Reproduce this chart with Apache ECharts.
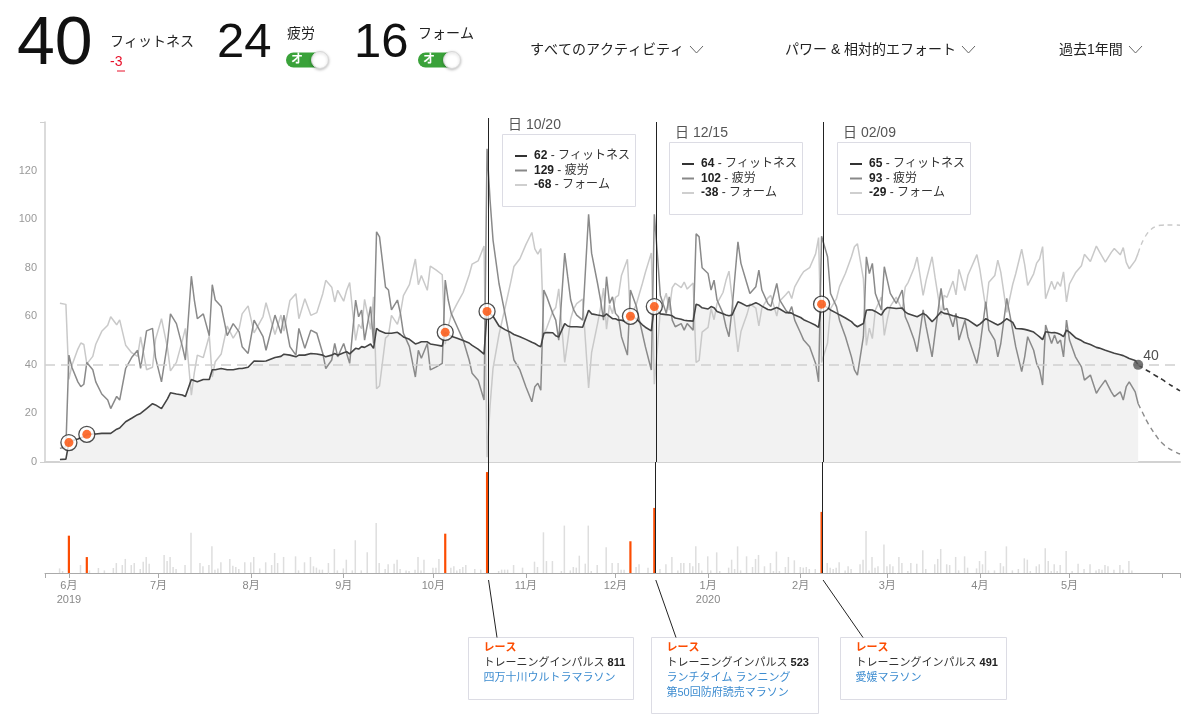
<!DOCTYPE html>
<html>
<head>
<meta charset="utf-8">
<script src="https://cdn.jsdelivr.net/npm/echarts@6/dist/echarts.min.js"></script>
<style>
  html, body { margin: 0; padding: 0; background: #fff; }
  #chart { width: 1200px; height: 721px; }
</style>
</head>
<body>
<div id="chart"></div>
<script>
// ----------------------
// データ (日数 = 2019/05/24 からの経過日)
// ----------------------
const days = [
  5,7,8,9,11,12,13,14,16,17,19,21,22,24,25,27,29,31,32,34,36,37,39,41,42,44,46,47,49,50,51,53,55,56,57,59,61,63,65,66,68,70,73,74,77,79,80,82,84,85,87,89,91,93,94,96,97,
  98,100,101,102,104,105,106,107,109,110,111,112,114,115,116,118,119,120,122,124,125,126,128,129,131,133,134,135,136,138,140,142,143,145,147,148,149,150,152,154,156,157,159,161,163,164,165,166,167,168,170,171,172,174,175,176,177,178,180,182,183,185,186,187,188,189,190,191,192,
  193,195,196,198,199,200,201,203,204,205,206,208,209,210,211,213,214,215,217,218,219,220,222,223,224,225,227,228,229,230,232,233,235,236,238,239,240,242,243,245,246,248,249,250,251,253,254,256,258,259,260,262,263,265,266,268,270,271,272,274,275,276,277,278,280,281,282,283,285,287,
  288,289,291,292,294,295,297,298,300,301,302,304,305,306,308,309,312,313,315,316,318,319,320,322,324,325,327,328,329,331,332,333,334,335,337,338,339,340,341,342,343,345,347,348,350,352,353,355,357,358,360,361,362,363,365,366
];
const fitness = [
  1,1.2,8,8.7,9.5,10,10.4,11.4,11.5,11.5,11.8,11.8,11.8,13.5,14,16.6,18,19.5,20,22,24,23.5,22,26,28.5,28,27.6,27,34,33.5,33,34,34,38,38,38.5,38,38,38.5,38.5,39,41.6,41.5,41.6,43,43.5,44.4,44,43.3,44,44,44.7,44.5,44,43.3,44,44.7,
  44,45,45.4,44.5,46.8,46.5,47.5,47.2,48.6,46.8,55,54,53,53,53,53.4,52.5,51.5,50.5,48.6,49,49.5,49.5,48.6,48.2,47.7,53.4,52.5,51.8,51,50,49,48,46.5,44.4,62,61,60,56,54.5,53.3,52.5,51.6,50.5,49.3,48.8,48,47.5,53,53.3,53.2,52,51.5,57,56,55.7,55.7,55.7,55.5,62.5,61,60.5,60.3,60,61,60,59,59,58.4,
  58.4,57.5,60,59,57.7,56.5,55.5,54,64,62.5,61,60.7,60.5,60.2,59.3,58.8,58.4,58.2,58,65,64.5,63.5,63,64,63.5,62,61,60.5,60.2,60.5,66,65.5,64.2,64.5,65.6,65,64.2,62.8,62.6,63.6,63,61.5,61.5,61.3,60.5,59.5,58.6,57.5,56.3,55.4,65,63.5,62.6,61.3,60.6,59.3,57.8,56.5,55.7,57,62.5,62.7,62.6,62,60.5,62.5,63.6,63.5,63.2,63.4,
  61.8,61,60.2,59.8,61.2,60.5,57.8,59,61.9,61.2,61,60.2,60,59.5,59,58.5,56,56.8,59,58.3,57,56.4,57,59,57.5,55,54.8,54.6,54.3,53.5,52.5,51.5,50.4,53.6,53.2,53.3,53,52.5,51.6,54.3,53.5,51.2,50,49.2,48.4,47.2,46.9,46,45.2,44.8,44.2,43.8,43.2,42.6,41.8,40
];
const fatigue = [
  5.6,6.3,44,39,33,31,32,41,38,33,28,25.5,22,27,25.5,38.5,43,46,38.5,54,55,43,33,49,61,57,47.5,42,76.5,66.7,59,61,52,73,66.7,64,52,57,53.6,47.5,44.7,58.4,51.6,46,60.5,53,60.5,47.5,44,55,46.8,54.3,53,44.7,38.5,42,48.8,
  43.3,48.8,44.7,40.6,66.7,59.8,62.6,50.2,64,48.8,94.8,92.7,72,70.8,62.6,66.7,61.2,53,47.5,35,46,42.7,48.8,37.9,39.2,40.6,74.9,66.7,61.2,55.7,50.2,42,36.5,33.7,25.5,129,108,91.4,73.5,61.2,48.8,42,37.9,31,24.8,31,32.4,29.6,70.8,68,61.2,58.4,50.2,86,76.3,66.7,62.6,60.5,58.4,102,86,73.5,66.7,58.4,76.3,65.3,68,61.2,59.8,
  51.6,44,70.8,64,58.4,53,47.5,37.9,102,86,68.7,61.2,68,58.4,55.7,57,54.3,57,54.3,94,92.7,80,77.6,70.8,74.9,66.7,61.2,55.7,51.6,62.6,90.7,81.8,73.5,69.4,72.2,79,70.8,65.3,64,73.5,66.7,62.6,61.2,64,58.4,53,50.2,47.5,40.6,33,93,84.5,69.4,64,58.4,51.6,43.3,37.9,35.8,51.6,84.5,77.6,81.8,69.4,62.6,80.4,74.9,69.4,65.3,70.8,
  59.8,57,50.2,45.4,62.6,55.7,43.3,53,71.5,62.6,63.2,55.7,61.2,50.2,58.4,51.6,40.6,47.5,66,54.3,50.2,43.3,48.8,67.4,54.3,47.5,37.2,43.3,51.6,46,40.6,37.9,31.7,56.4,48.8,52.3,48.8,50.2,43.3,58.4,50.2,43.3,39.2,33.7,35.8,28.3,30.3,33.7,28.9,26.9,28.9,25.5,31,33,28.9,24
];
const form = [
  -4.6,-5.1,-36,-30.3,-23.5,-21,-21.6,-29.6,-26.5,-21.5,-16.2,-13.7,-10.2,-13.5,-11.5,-21.9,-25,-26.5,-18.5,-32,-31,-19.5,-11,-23,-32.5,-29,-19.9,-15,-42.5,-33.2,-26,-27,-18,-35,-28.7,-25.5,-14,-19,-15.1,-9,-5.7,-16.8,-10.1,-4.4,-17.5,-9.5,-16.1,-3.5,-0.7,-11,-2.8,-9.6,-8.5,-0.7,4.8,2,-4.1,
  0.7,-3.8,0.7,3.9,-19.9,-13.3,-15.1,-3,-15.4,-2,-39.8,-38.7,-19,-17.8,-9.6,-13.3,-8.7,-1.5,3,13.6,3,6.8,0.7,10.7,9,7.1,-21.5,-14.2,-9.4,-4.7,-0.2,7,11.5,12.8,18.9,-68,-47,-31.4,-17.5,-6.7,4.5,10.5,13.7,19.5,24.5,17.8,15.6,17.9,-17.8,-14.7,-8,-6.4,1.3,-29,-20.3,-11,-6.9,-4.8,-2.9,-39.5,-25,-13,-6.4,1.6,-15.3,-5.3,-9,-2.2,-1.4,
  6.8,13.5,-10.8,-5,-0.7,3.5,8,16.1,-38,-23.5,-7.7,-0.5,-7.5,1.8,3.6,1.8,4.1,1.2,3.7,-29,-28.2,-16.5,-14.6,-6.8,-11.4,-4.7,-0.2,4.8,8.6,-2.1,-24.7,-16.3,-9.3,-4.9,-6.6,-14,-6.6,-2.5,-1.4,-9.9,-3.7,-1.1,0.3,-2.7,2.1,6.5,8.4,10,15.7,22.4,-29,-21,-6.8,-2.7,2.2,7.7,14.5,18.6,19.9,5.4,-22,-14.9,-19.2,-7.4,-2.1,-17.9,-11.3,-5.9,-2.1,-7.4,
  2,4,10,14.4,-1.4,4.8,14.5,6,-9.6,-1.4,-2.2,4.5,-1.2,9.3,0.6,6.9,15.4,9.3,-7,4,6.8,13.1,8.2,-8.4,3.2,7.5,17.6,11.3,2.7,7.5,11.9,13.6,18.7,-2.8,4.4,1,4.2,2.3,8.3,-4.1,3.3,7.9,10.8,15.5,12.6,18.9,16.6,12.3,16.3,17.9,15.3,18.3,12.2,9.6,12.9,16
];

// 予測 (今日以降)
const projDays = [366, 367, 368, 369, 370, 372, 374, 376, 378, 380];
const projFitness = [40, 39.2, 38.5, 37.7, 37, 35.4, 34, 32.3, 30.8, 29.3];
const projFatigue = [24, 21.5, 19, 16.6, 14.5, 10.8, 7.8, 5.8, 4.4, 3.3];
const projForm = [16, 19.5, 22, 24, 25.5, 27, 27.5, 27.6, 27.6, 27.5];

// レース
const raceDays = [8, 14, 134, 148, 196, 204, 260];
const raceFitness = [8, 11.4, 53.4, 62, 60, 64, 65];
const raceLoads = [300, 128, 316, 811, 255, 523, 491];

// トレーニングインパルス (レース以外)
const loadDays = [
  5,6,12,15,18,20,23,24,26,27,29,30,32,33,34,35,40,41,42,43,44,47,49,52,53,55,56,57,58,59,62,63,64,65,67,69,70,72,74,76,77,78,80,84,85,87,89,90,91,92,93,95,97,98,100,101,103,104,106,108,111,112,114,115,117,118,119,121,122,124,125,126,127,130,131,132,136,137,138,139,140,141,144,146,152,153,154,155,157,160,164,165,167,168,170,173,174,176,177,178,179,181,182,183,185,
  188,190,192,193,194,198,199,202,206,208,210,212,213,214,216,217,218,219,220,222,223,225,226,229,230,231,232,233,235,237,238,239,241,243,244,245,246,248,249,251,253,254,255,256,258,262,263,264,265,266,268,269,270,273,274,275,276,277,278,279,281,282,283,284,286,287,289,290,292,294,295,298,299,300,302,303,305,306,308,309,312,313,314,315,316,318,320,321,322,324,326,328,329,330,332,333,335,336,337,338,339,340,342,344,346,348,350,352,353,354,355,356,358,360,361,363,364
];
const loadVals = [
  37,16,64,21,40,21,40,80,64,113,64,80,32,91,129,75,145,96,129,48,32,64,324,80,54,64,214,27,37,86,113,59,48,32,86,86,129,37,86,64,161,80,129,134,21,86,129,54,43,27,27,80,193,21,37,107,21,263,21,166,402,80,32,70,75,107,32,21,16,27,129,21,107,43,43,113,43,54,21,32,48,64,32,27,16,27,27,27,64,43,91,48,327,96,96,16,381,21,48,43,139,75,381,16,64,
  206,80,80,27,27,48,70,43,32,70,129,21,80,80,80,54,214,80,21,134,21,166,16,43,107,32,214,21,134,48,113,145,54,80,16,172,16,48,129,102,48,43,48,32,32,80,43,32,43,86,21,54,32,70,107,338,21,129,43,54,230,54,70,54,129,80,16,80,75,182,32,70,113,193,70,64,129,21,134,43,37,96,70,177,21,21,80,54,214,21,32,118,107,16,54,70,198,96,16,70,16,64,177,16,75,32,70,21,32,27,64,54,27,64,27,96,21
];

// 軸
const yTicks = [0, 20, 40, 60, 80, 100, 120];
const monthDays = [8, 38, 69, 100, 130, 161, 191, 222, 253, 282, 313, 343];
const monthNames = ['6月\n2019', '7月', '8月', '9月', '10月', '11月', '12月', '1月\n2020', '2月', '3月', '4月', '5月'];
const tickDays = [0, 8, 38, 69, 100, 130, 161, 191, 222, 253, 282, 313, 343, 374, 380];
const TODAY = 366;

// ツールチップ・レース情報
const tipDays = [148, 204, 260];
const tipDates = ['日 10/20', '日 12/15', '日 02/09'];
const tipFitness = [62, 64, 65];
const tipFatigue = [129, 102, 93];
const tipForm = [-68, -38, -29];
const raceImpulse = [811, 523, 491];
const raceNames = [['四万十川ウルトラマラソン'], ['ランチタイム ランニング', '第50回防府読売マラソン'], ['愛媛マラソン']];

// ----------------------
// 色・フォント
// ----------------------
const C_FIT = '#444';
const C_FAT = '#8a8a8a';
const C_FORM = '#c9c9c9';
const C_ORANGE = '#fc4c02';
const C_BLUE = '#3d8cd0';
const FONT = '"Liberation Sans", "Noto Sans CJK JP", sans-serif';

const pairs = (xs, ys) => xs.map((x, i) => [x, ys[i]]);
// 縦線はバーの少し右に引く
const cursorLines = tipDays.map(d => ({ xAxis: d + 0.5 }));

const chart = echarts.init(document.getElementById('chart'));

chart.setOption({
  animation: false,
  textStyle: { fontFamily: FONT },
  grid: [
    { left: 45, right: 20, top: 122, height: 340 },
    { left: 45, right: 20, top: 462, height: 111 }
  ],
  xAxis: [
    {
      gridIndex: 0, type: 'value', min: 0, max: 380,
      axisLine: { lineStyle: { color: '#d2d2d2', width: 2 } },
      axisTick: { show: false }, axisLabel: { show: false }, splitLine: { show: false }
    },
    {
      gridIndex: 1, type: 'value', min: 0, max: 380,
      axisLine: { lineStyle: { color: '#aaa', width: 1 } },
      axisTick: { customValues: tickDays, length: 5, lineStyle: { color: '#aaa' } },
      axisLabel: {
        customValues: monthDays, color: '#888', fontSize: 11, lineHeight: 14, margin: 6,
        formatter: v => monthNames[monthDays.indexOf(v)] || ''
      },
      splitLine: { show: false }
    }
  ],
  yAxis: [
    {
      gridIndex: 0, type: 'value', min: 0, max: 140,
      axisLine: { show: true, lineStyle: { color: '#cfcfcf', width: 1.5 } },
      axisTick: { show: true, customValues: [0, 140], length: 5, lineStyle: { color: '#cfcfcf' } },
      axisLabel: { customValues: yTicks, color: '#999', fontSize: 11, margin: 8 },
      splitLine: { show: false }
    },
    { gridIndex: 0, type: 'value', min: -70, max: 70, show: false },
    { gridIndex: 1, type: 'value', min: 0, max: 892, show: false }
  ],
  series: [
    {
      // フィットネスの塗り
      type: 'line', xAxisIndex: 0, yAxisIndex: 0, z: 1,
      data: pairs(days, fitness), symbol: 'none',
      lineStyle: { width: 0 }, areaStyle: { color: '#f2f2f2', opacity: 1 },
      markLine: {
        silent: true, symbol: 'none', label: { show: false },
        lineStyle: { color: '#d0d0d0', width: 1.5, type: [10, 6] },
        data: [{ yAxis: 40 }]
      }
    },
    {
      name: 'フォーム', type: 'line', xAxisIndex: 0, yAxisIndex: 1, z: 2,
      data: pairs(days, form), symbol: 'none',
      lineStyle: { color: C_FORM, width: 1.5 }
    },
    {
      name: '疲労', type: 'line', xAxisIndex: 0, yAxisIndex: 0, z: 3,
      data: pairs(days, fatigue), symbol: 'none',
      lineStyle: { color: C_FAT, width: 1.5 }
    },
    {
      name: 'フィットネス', type: 'line', xAxisIndex: 0, yAxisIndex: 0, z: 4,
      data: pairs(days, fitness), symbol: 'none',
      lineStyle: { color: C_FIT, width: 1.6 },
      markLine: {
        silent: true, symbol: 'none', label: { show: false },
        lineStyle: { color: '#222', width: 1, type: 'solid' },
        data: cursorLines
      }
    },
    // 予測 (破線)
    {
      type: 'line', xAxisIndex: 0, yAxisIndex: 1, z: 2, smooth: true,
      data: pairs(projDays, projForm), symbol: 'none',
      lineStyle: { color: C_FORM, width: 1.4, type: [5, 4] }
    },
    {
      type: 'line', xAxisIndex: 0, yAxisIndex: 0, z: 3, smooth: true,
      data: pairs(projDays, projFatigue), symbol: 'none',
      lineStyle: { color: C_FAT, width: 1.4, type: [5, 4] }
    },
    {
      type: 'line', xAxisIndex: 0, yAxisIndex: 0, z: 4, smooth: true,
      data: pairs(projDays, projFitness), symbol: 'none',
      lineStyle: { color: '#333', width: 1.6, type: [5, 4] }
    },
    // レースマーカー
    {
      type: 'scatter', xAxisIndex: 0, yAxisIndex: 0, z: 6,
      data: pairs(raceDays, raceFitness), symbolSize: 16,
      itemStyle: { color: '#fff', borderColor: '#222', borderWidth: 1.3 }
    },
    {
      type: 'scatter', xAxisIndex: 0, yAxisIndex: 0, z: 7,
      data: pairs(raceDays, raceFitness), symbolSize: 9,
      itemStyle: { color: C_ORANGE }
    },
    // 今日
    {
      type: 'scatter', xAxisIndex: 0, yAxisIndex: 0, z: 7,
      data: [[TODAY, fitness[fitness.length - 1]]], symbolSize: 10,
      itemStyle: { color: '#555' },
      label: { show: true, position: 'right', distance: 0, offset: [0, -9], formatter: '{@[1]}', color: '#222', fontSize: 14 }
    },
    // トレーニングインパルス
    {
      type: 'bar', xAxisIndex: 1, yAxisIndex: 2, z: 2,
      data: pairs(loadDays, loadVals), barWidth: 1.5, barGap: '-100%',
      itemStyle: { color: '#dedede' },
      markLine: {
        silent: true, symbol: 'none', label: { show: false },
        lineStyle: { color: '#222', width: 1, type: 'solid' },
        data: cursorLines
      }
    },
    {
      type: 'bar', xAxisIndex: 1, yAxisIndex: 2, z: 3,
      data: pairs(raceDays, raceLoads), barWidth: 2.2, barGap: '-100%',
      itemStyle: { color: C_ORANGE }
    }
  ]
});

// ----------------------
// 注釈 (ヘッダー・ツールチップ・レース情報)
// ----------------------
function text(x, y, s, size, color, extra) {
  return {
    type: 'text', x: x, y: y, z: 50, silent: true,
    style: Object.assign({ text: s, fontSize: size, fontFamily: FONT, fill: color, verticalAlign: 'middle' }, extra || {})
  };
}
function line(x1, y1, x2, y2, color, w) {
  return { type: 'line', z: 49, silent: true, shape: { x1, y1, x2, y2 }, style: { stroke: color, lineWidth: w || 1 } };
}
function box(x, y, w, h) {
  return { type: 'rect', z: 48, silent: true, shape: { x, y, width: w, height: h }, style: { fill: '#fff', stroke: '#dcdce4', lineWidth: 1 } };
}
function toggle(x, cy) {
  return [
    { type: 'rect', z: 48, silent: true, shape: { x: x, y: cy - 7.5, width: 40, height: 15, r: 7.5 }, style: { fill: '#3aa23a' } },
    text(x + 5, cy, 'オ', 12, '#fff', { fontWeight: 'bold' }),
    { type: 'circle', z: 50, silent: true, shape: { cx: x + 34, cy: cy, r: 8.5 },
      style: { fill: '#fff', stroke: '#d8d8d8', lineWidth: 1, shadowBlur: 3, shadowColor: 'rgba(0,0,0,0.25)', shadowOffsetY: 1 } }
  ];
}
function chevron(x, cy) {
  return { type: 'polyline', z: 50, silent: true, shape: { points: [[x, cy - 4], [x + 6.5, cy + 3], [x + 13, cy - 4]] },
    style: { stroke: '#666', lineWidth: 1, fill: null } };
}

const g = [];
// ヘッダー
g.push(text(17, 45, '40', 68, '#111'));
g.push(text(110, 42, 'フィットネス', 14, '#222'));
g.push(text(110, 62, '-3', 14, '#e8102a'));
g.push(line(117, 71, 125, 71, '#e8102a', 1));
g.push(text(217, 43, '24', 49, '#111'));
g.push(text(287, 34, '疲労', 14, '#222'));
g.push(...toggle(286, 60));
g.push(text(354, 43, '16', 49, '#111'));
g.push(text(418, 34, 'フォーム', 14, '#222'));
g.push(...toggle(418, 60));
g.push(text(530, 50, 'すべてのアクティビティ', 14, '#222'));
g.push(chevron(690, 50));
g.push(text(785, 50, 'パワー & 相対的エフォート', 14, '#222'));
g.push(chevron(962, 50));
g.push(text(1059, 50, '過去1年間', 14, '#222'));
g.push(chevron(1129, 50));

// ツールチップとレース情報
const tipTop = [134, 142, 142];
const rowNames = ['フィットネス', '疲労', 'フォーム'];
const rowColors = ['#333', '#888', '#cfcfcf'];
const infoOffset = [-19, -3, 18];
const infoWidth = [165, 167, 166];
const infoHeight = [62, 76, 62];
const connEnd = [10, 22, 41];
const rich = { b: { fontWeight: 'bold', fontSize: 12, fill: '#222', fontFamily: FONT } };

tipDays.forEach((d, k) => {
  const L = Math.round(chart.convertToPixel({ xAxisIndex: 0 }, d));
  const Lc = chart.convertToPixel({ xAxisIndex: 0 }, d + 0.5);
  const top = tipTop[k];
  // 10/20 の縦線は見出しの高さまで伸びる
  if (k === 0) g.push(line(Lc, 118, Lc, 122, '#222', 1));
  g.push(text(L + 21, top - 9, tipDates[k], 14, '#555'));
  g.push(box(L + 15.5, top + 0.5, 133, 72));
  const vals = [tipFitness[k], tipFatigue[k], tipForm[k]];
  vals.forEach((v, r) => {
    const y = top + 22 + r * 14.5;
    g.push(line(L + 28, y, L + 40, y, rowColors[r], 2));
    g.push(text(L + 47, y, '{b|' + v + '} - ' + rowNames[r], 12, '#333', { rich: rich }));
  });

  const bx = L + infoOffset[k] + 0.5;
  const by = 637.5;
  g.push(line(Lc, 580, L + connEnd[k], by, '#222', 1));
  g.push(box(bx, by, infoWidth[k], infoHeight[k]));
  g.push(text(bx + 15, by + 10, 'レース', 11, C_ORANGE, { fontWeight: 'bold' }));
  g.push(text(bx + 15, by + 25, 'トレーニングインパルス {b|' + raceImpulse[k] + '}', 11, '#333',
    { rich: { b: { fontWeight: 'bold', fontSize: 11, fill: '#222', fontFamily: FONT } } }));
  raceNames[k].forEach((n, j) => {
    g.push(text(bx + 15, by + 40 + j * 15, n, 11, C_BLUE));
  });
});

chart.setOption({ graphic: g });

window.addEventListener('resize', () => chart.resize());
</script>
</body>
</html>
